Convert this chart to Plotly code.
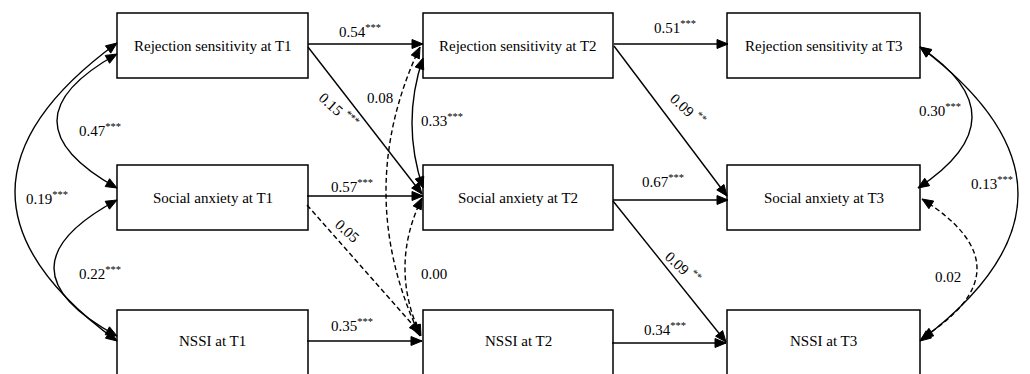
import math
import plotly.graph_objects as go

# ---------------- data ----------------
constructs = ["Rejection sensitivity", "Social anxiety", "NSSI"]
waves = ["T1", "T2", "T3"]

# directed paths (from construct idx, from wave idx, to construct idx, to wave idx)
path_from = [(0, 0), (1, 0), (2, 0), (0, 1), (1, 1), (2, 1), (0, 0), (1, 0), (0, 1), (1, 1)]
path_to = [(0, 1), (1, 1), (2, 1), (0, 2), (1, 2), (2, 2), (1, 1), (2, 1), (1, 2), (2, 2)]
path_coef = ["0.54", "0.57", "0.35", "0.51", "0.67", "0.34", "0.15", "0.05", "0.09", "0.09"]
path_stars = ["***", "***", "***", "***", "***", "***", "***", "", "**", "**"]
path_sig = [True, True, True, True, True, True, True, False, True, True]

# correlations (wave idx, construct a, construct b)
corr_pairs = [(0, 0, 1), (0, 1, 2), (0, 0, 2), (1, 0, 1), (1, 0, 2), (1, 1, 2),
              (2, 0, 1), (2, 0, 2), (2, 1, 2)]
corr_coef = ["0.47", "0.22", "0.19", "0.33", "0.08", "0.00", "0.30", "0.13", "0.02"]
corr_stars = ["***", "***", "***", "***", "", "", "***", "***", ""]
corr_sig = [True, True, True, True, False, False, True, True, False]

# ---------------- layout geometry (pixels) ----------------
box_x = [(117, 308), (423, 613), (727, 920)]
box_y = [(13, 78), (165, 230), (310, 380)]
text_y = [46, 198, 341]

# path geometry: start, end, label position, label angle
path_geom = [
    ((308, 44), (423, 44), (360, 31), 0),
    ((307, 196), (423, 196), (352, 186), 0),
    ((307, 341), (422, 341), (352, 325), 0),
    ((614, 44), (728, 44), (675, 27), 0),
    ((613, 200), (728, 200), (663, 181), 0),
    ((612, 343), (726, 343), (665, 329), 0),
    ((308, 47), (422, 194), (339, 110), 42),
    ((307, 205), (420, 333), (347, 231), 42),
    ((614, 46), (727, 196), (688, 109), 43),
    ((613, 201), (726, 342), (683, 267), 43),
]
# correlation geometry: end a, end b, bulge x, label position
corr_geom = [
    ((117, 54), (117, 188), 57, (100, 130)),
    ((117, 200), (117, 336), 54, (100, 273)),
    ((117, 43), (117, 341), 15, (47, 198)),
    ((423, 58), (423, 188), 412, (442, 120)),
    ((420, 47), (420, 336), 386, (380, 98)),
    ((422, 198), (421, 336), 405, (434, 274)),
    ((920, 47), (918, 188), 972, (940, 110)),
    ((920, 47), (920, 341), 1018, (992, 183)),
    ((922, 199), (922, 338), 977, (948, 277)),
]

FONT = "Liberation Serif"
FS = 15
LW = 1.4
DASH = "5px,3px"

fig = go.Figure()
fig.add_trace(go.Scatter(x=[0, 1030], y=[0, 374], mode="markers",
                         marker=dict(opacity=0), hoverinfo="skip"))

shapes = []
annotations = []


def arrowhead(tip, d, length=11, half=4.5):
    dx, dy = d
    n = math.hypot(dx, dy)
    dx, dy = dx / n, dy / n
    bx, by = tip[0] - length * dx, tip[1] - length * dy
    px, py = -dy, dx
    p1 = (bx + half * px, by + half * py)
    p2 = (bx - half * px, by - half * py)
    path = f"M {tip[0]},{tip[1]} L {p1[0]},{p1[1]} L {p2[0]},{p2[1]} Z"
    return dict(type="path", path=path, xref="x", yref="y",
                fillcolor="black", line=dict(color="black", width=1))


# boxes
for wi, w in enumerate(waves):
    for ci, c in enumerate(constructs):
        x0, x1 = box_x[wi]
        y0, y1 = box_y[ci]
        shapes.append(dict(type="rect", x0=x0, x1=x1, y0=y0, y1=y1, xref="x", yref="y",
                           line=dict(color="black", width=1.5)))
        annotations.append(dict(x=(x0 + x1) / 2, y=text_y[ci], xref="x", yref="y",
                                text=f"{c} at {w}", showarrow=False,
                                font=dict(family=FONT, size=FS, color="black")))

# directed paths
for i in range(len(path_coef)):
    (sx, sy), (ex, ey), (lx, ly), ang = path_geom[i]
    line = dict(color="black", width=LW)
    if not path_sig[i]:
        line["dash"] = DASH
    shapes.append(dict(type="line", x0=sx, y0=sy, x1=ex, y1=ey, xref="x", yref="y", line=line))
    shapes.append(arrowhead((ex, ey), (ex - sx, ey - sy)))
    txt = path_coef[i]
    if path_stars[i]:
        sep = " " if ang else ""
        txt += f"{sep}<sup>{path_stars[i]}</sup>"
    annotations.append(dict(x=lx, y=ly, xref="x", yref="y", text=txt, showarrow=False,
                            textangle=ang, font=dict(family=FONT, size=FS, color="black")))

# correlations (double-headed curves)
for i in range(len(corr_coef)):
    (ax_, ay_), (bx_, by_), bulge, (lx, ly) = corr_geom[i]
    cx = 2 * bulge - 0.5 * (ax_ + bx_)
    cy = 0.5 * (ay_ + by_)
    line = dict(color="black", width=LW)
    if not corr_sig[i]:
        line["dash"] = DASH
    shapes.append(dict(type="path", path=f"M {ax_},{ay_} Q {cx},{cy} {bx_},{by_}",
                       xref="x", yref="y", line=line))
    shapes.append(arrowhead((ax_, ay_), (ax_ - cx, ay_ - cy)))
    shapes.append(arrowhead((bx_, by_), (bx_ - cx, by_ - cy)))
    txt = corr_coef[i]
    if corr_stars[i]:
        txt += f"<sup>{corr_stars[i]}</sup>"
    annotations.append(dict(x=lx, y=ly, xref="x", yref="y", text=txt, showarrow=False,
                            font=dict(family=FONT, size=FS, color="black")))

fig.update_layout(
    width=1030, height=374,
    margin=dict(l=0, r=0, t=0, b=0),
    paper_bgcolor="white", plot_bgcolor="white",
    showlegend=False,
    font=dict(family=FONT, size=FS, color="black"),
    xaxis=dict(range=[0, 1030], visible=False, fixedrange=True),
    yaxis=dict(range=[374, 0], visible=False, fixedrange=True),
    shapes=shapes,
    annotations=annotations,
)

fig.write_html("out.html", config={"displayModeBar": False},
               post_script="document.body.style.margin='0';document.body.style.overflow='hidden';")
